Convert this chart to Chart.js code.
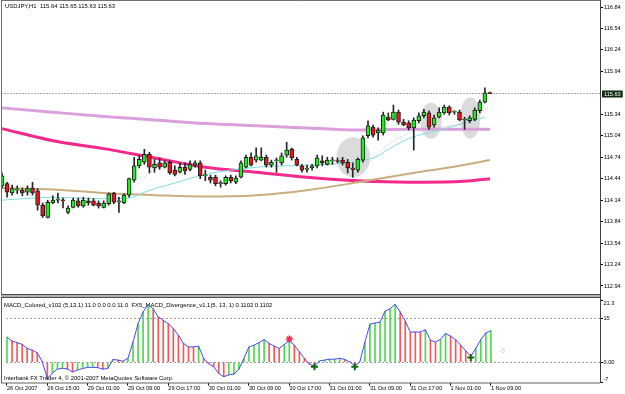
<!DOCTYPE html>
<html><head><meta charset="utf-8">
<script src="https://cdn.jsdelivr.net/npm/chart.js@4.4.1/dist/chart.umd.min.js"></script>
<style>
html,body{margin:0;padding:0;background:#fff;width:625px;height:394px;overflow:hidden}
#wrapA{position:absolute;left:0;top:0;width:625px;height:294px}
#wrapB{position:absolute;left:0;top:294px;width:625px;height:100px}
canvas{display:block}
</style></head><body>
<div id="wrapA"><canvas id="main" width="625" height="294"></canvas></div>
<div id="wrapB"><canvas id="macd" width="625" height="100"></canvas></div>
<script>
// ---------- data ----------
const symbolTitle = 'USDJPY,H1  115.64 115.65 115.63 115.63';
const opens = [114.34,114.37,114.24,114.28,114.28,114.25,114.31,114.27,114.07,113.90,
114.10,114.14,114.14,113.97,114.04,114.13,114.06,114.13,114.13,114.10,
114.04,114.09,114.24,114.11,114.10,114.21,114.42,114.62,114.67,114.78,
114.59,114.66,114.60,114.67,114.56,114.53,114.60,114.57,114.63,114.66,
114.48,114.46,114.46,114.37,114.37,114.46,114.39,114.46,114.60,114.74,
114.70,114.70,114.74,114.63,114.69,114.66,114.77,114.85,114.71,114.62,
114.57,114.59,114.62,114.69,114.64,114.69,114.69,114.70,114.67,114.59,
114.56,114.70,115.04,115.16,115.08,115.08,115.30,115.27,115.37,115.23,
115.22,115.15,115.25,115.32,115.36,115.19,115.30,115.36,115.44,115.37,
115.37,115.26,115.25,115.27,115.39,115.51,115.64];
const highs = [114.52,114.39,114.35,114.34,114.31,114.34,114.39,114.30,114.10,114.14,
114.20,114.24,114.17,114.06,114.17,114.17,114.18,114.17,114.16,114.13,
114.13,114.24,114.25,114.18,114.23,114.45,114.74,114.76,114.85,114.81,
114.71,114.73,114.69,114.69,114.62,114.66,114.66,114.69,114.69,114.69,
114.56,114.49,114.49,114.41,114.48,114.49,114.48,114.69,114.77,114.80,
114.87,114.87,114.77,114.70,114.73,114.80,114.95,114.87,114.74,114.64,
114.63,114.64,114.77,114.76,114.74,114.74,114.73,114.74,114.71,114.66,
114.73,115.04,115.25,115.19,115.15,115.37,115.36,115.47,115.40,115.27,
115.25,115.29,115.36,115.41,115.39,115.33,115.43,115.47,115.46,115.39,
115.40,115.30,115.32,115.43,115.54,115.71,115.65];
const lows = [114.31,114.18,114.21,114.23,114.20,114.21,114.21,114.00,113.90,113.89,
114.09,114.10,114.03,113.95,114.03,114.04,114.04,114.07,114.06,114.03,
114.03,114.07,114.09,113.97,114.09,114.18,114.39,114.59,114.64,114.52,
114.53,114.57,114.59,114.50,114.48,114.52,114.50,114.55,114.60,114.44,
114.41,114.38,114.34,114.32,114.35,114.38,114.37,114.45,114.59,114.62,
114.67,114.69,114.60,114.60,114.53,114.63,114.74,114.70,114.62,114.53,
114.53,114.56,114.59,114.62,114.63,114.64,114.66,114.63,114.52,114.46,
114.53,114.67,115.01,115.02,114.98,115.05,115.25,115.26,115.20,115.18,
115.12,114.84,115.22,115.29,115.13,115.16,115.29,115.34,115.33,115.34,
115.25,115.13,115.22,115.25,115.36,115.50,115.63];
const closes = [114.48,114.25,114.30,114.28,114.24,114.30,114.24,114.07,113.92,114.11,
114.14,114.14,114.13,114.03,114.14,114.06,114.14,114.10,114.07,114.06,
114.10,114.23,114.11,114.13,114.21,114.44,114.62,114.71,114.78,114.60,
114.64,114.60,114.66,114.52,114.50,114.60,114.55,114.64,114.66,114.48,
114.49,114.42,114.37,114.38,114.46,114.41,114.45,114.66,114.74,114.63,
114.76,114.74,114.63,114.67,114.69,114.76,114.84,114.73,114.63,114.56,
114.59,114.62,114.73,114.66,114.70,114.69,114.68,114.66,114.59,114.57,
114.71,115.01,115.18,115.05,115.12,115.33,115.26,115.37,115.23,115.19,
115.15,115.26,115.32,115.37,115.16,115.29,115.37,115.44,115.36,115.37,
115.26,115.26,115.29,115.40,115.51,115.64,115.63];
const bidPrice = [115.63];
const priceTicks = [112.94,113.24,113.54,113.84,114.14,114.44,114.74,115.04,115.34,115.94,116.24,116.54,116.84];

const maBars = [0,10,20,30,40,50,60,70,80,90,96];
const plumMA = [115.43,115.37,115.31,115.26,115.21,115.18,115.15,115.12,115.13,115.13,115.13];
const pinkMA = [115.14,114.97,114.86,114.73,114.60,114.53,114.46,114.41,114.39,114.40,114.44];
const tanMA  = [114.31,114.29,114.24,114.21,114.19,114.21,114.28,114.39,114.51,114.62,114.70];
const cyanBars = [0,10,20,25,28,30,34,40,50,60,70,74,76,80,86,90,95];
const cyanMA   = [114.14,114.18,114.16,114.17,114.25,114.30,114.38,114.50,114.60,114.63,114.68,114.76,114.85,115.00,115.12,115.20,115.30];
const dotABars = [25.2,27.2,29.1,31.1,33.6,38.4];
const dotA     = [114.24,114.42,114.53,114.60,114.66,114.67];
const dotBBars = [70,72.8,75.5,78.3,81.3,86.2,90.1,93.1,95.6];
const dotB     = [114.59,114.70,114.90,115.02,115.12,115.16,115.20,115.29,115.44];
const circleBars   = [69.1,84.4,92.1];
const circlePrices = [114.74,115.25,115.29];

const macdTitle = 'MACD_Colored_v102 (5,13,1) 11.0 0.0 0.0 11.0  FX5_MACD_Divergence_v1.1(5, 13, 1) 0.1102 0.1102';
const macdValues = [8.6,7.2,6.7,6.1,4.7,4.1,3.2,0.1,-5.6,-3.8,
-2.4,-2.1,-2.4,-3.4,-2.7,-2.2,-1.8,-1.8,-1.9,-2.4,
-2.2,0.9,0.7,0.3,1.3,6.9,13.2,17.2,19.8,18.3,
15.5,14.3,13.2,11.5,9.2,6.4,5.2,5.2,5.5,1.3,
-0.5,-1.6,-3.9,-5.0,-4.4,-4.1,-2.5,1.3,5.2,5.8,
6.7,7.7,6.4,5.5,4.7,6.0,7.3,5.8,3.5,1.3,
-0.8,-1.4,0.4,0.7,1.0,1.0,1.3,0.9,0.1,-1.3,
0.1,6.9,13.0,13.4,13.7,17.5,18.3,19.8,17.2,14.1,
10.3,10.3,10.3,11.1,7.5,6.9,7.8,9.8,8.9,7.7,
5.8,3.9,2.0,4.7,7.7,10.0,10.7];
const macdTicks = [-7,0,15,21.3];
const macdTickLabels = ['-7','0.00','15','21.3'];
const sellBars = [56], sellValues = [7.9];
const buyBars = [61,69,92], buyValues = [-1.6,-1.6,1.6];
const ghostBar = [97.6], ghostValue = [3.8], ghostText = ['-6'];
const timeLabels = ['26 Oct 2007','26 Oct 15:00','29 Oct 01:00','29 Oct 09:00','29 Oct 17:00','30 Oct 01:00','30 Oct 09:00','30 Oct 17:00','31 Oct 01:00','31 Oct 09:00','31 Oct 17:00','1 Nov 01:00','1 Nov 09:00'];
const barsPerLabel = 8;
const copyright = 'Interbank FX Trader 4, \u00A9 2001-2007 MetaQuotes Software Corp.';

// ---------- drawing ----------
const FONT = "'Liberation Sans', Arial, sans-serif";
const xMin = -0.197, xMax = 117.64;
const idx = closes.map((_, i) => i);
const pts = (xs, ys) => xs.map((x, k) => ({x, y: ys[k]}));
const hiddenX = {type:'linear', min:xMin, max:xMax, display:false, offset:false, grid:{offset:false}};

const frameA = {
  id:'frameA',
  beforeDatasetsDraw(chart){
    const {ctx} = chart, xs = chart.scales.x, ys = chart.scales.y;
    const rB = [3.3,2.1,2.0], rP = [0.28,0.25,0.29];
    ctx.save();
    ctx.fillStyle = 'rgba(195,195,195,0.6)';
    circleBars.forEach((b,k)=>{
      const cx = xs.getPixelForValue(b), cy = ys.getPixelForValue(circlePrices[k]);
      const rx = Math.abs(xs.getPixelForValue(b + rB[k]) - cx);
      const ry = Math.abs(ys.getPixelForValue(circlePrices[k] + rP[k]) - cy);
      ctx.beginPath(); ctx.ellipse(cx, cy, rx, ry, 0, 0, Math.PI*2); ctx.fill();
    });
    ctx.restore();
  },
  afterDraw(chart){
    const {ctx, chartArea:a} = chart, ys = chart.scales.y;
    ctx.save();
    ctx.lineWidth = 1;
    ctx.strokeStyle = '#707070';
    ctx.beginPath(); ctx.moveTo(1.5,0); ctx.lineTo(1.5,a.bottom); ctx.moveTo(1,0.5); ctx.lineTo(a.right,0.5); ctx.stroke();
    ctx.strokeStyle = '#404040';
    ctx.beginPath(); ctx.moveTo(a.right+0.5,0); ctx.lineTo(a.right+0.5,a.bottom); ctx.stroke();
    ctx.fillStyle = '#000'; ctx.textBaseline = 'middle'; ctx.textAlign = 'left';
    ctx.font = '5.9px ' + FONT;
    ctx.fillText(symbolTitle, 5, 6.5);
    const y = ys.getPixelForValue(bidPrice[0]);
    const lbl = bidPrice[0].toFixed(2);
    ctx.font = '5.6px ' + FONT;
    const w = ctx.measureText(lbl).width;
    ctx.fillStyle = '#0e2a10';
    ctx.fillRect(a.right+2, Math.round(y)-3.5, w+4, 7);
    ctx.fillStyle = '#fff';
    ctx.fillText(lbl, a.right+4, Math.round(y));
    ctx.restore();
  }
};

new Chart(document.getElementById('main'), {
  type:'bar',
  data:{datasets:[
    {type:'bar', data: idx.map(i=>({x:i, y:[opens[i], closes[i]]})),
     backgroundColor: c => closes[c.dataIndex] >= opens[c.dataIndex] ? '#22e822' : '#e8161b',
     borderColor:'#1e1e1e', borderWidth:1, borderSkipped:false, barThickness:4, minBarLength:1, grouped:false, order:0},
    {type:'bar', data: idx.map(i=>({x:i, y:[lows[i], highs[i]]})),
     backgroundColor:'#262626', barThickness:1, grouped:false, order:1},
    {type:'line', data: pts(dotABars, dotA), borderColor:'#b4b4b4', borderWidth:1, borderDash:[1,2], pointRadius:0, order:2},
    {type:'line', data: pts(dotBBars, dotB), borderColor:'#b4b4b4', borderWidth:1, borderDash:[1,2], pointRadius:0, order:2},
    {type:'line', data: pts(cyanBars, cyanMA), borderColor:'#7fdede', borderWidth:1, pointRadius:0, cubicInterpolationMode:'monotone', order:3},
    {type:'line', data: pts(maBars, tanMA), borderColor:'#c9ad7f', borderWidth:2, pointRadius:0, cubicInterpolationMode:'monotone', order:4},
    {type:'line', data: pts(maBars, pinkMA), borderColor:'#f5288c', borderWidth:3, pointRadius:0, cubicInterpolationMode:'monotone', order:4},
    {type:'line', data: pts(maBars, plumMA), borderColor:'#dba0db', borderWidth:3, pointRadius:0, cubicInterpolationMode:'monotone', order:4},
    {type:'line', data: [{x:xMin, y:bidPrice[0]}, {x:xMax, y:bidPrice[0]}], borderColor:'#a8a8a8', borderWidth:1, borderDash:[2,1], pointRadius:0, order:6}
  ]},
  options:{
    responsive:false, animation:false, events:[],
    layout:{padding:{left:1, top:1, right:0, bottom:0}},
    plugins:{legend:{display:false}, tooltip:{enabled:false}},
    scales:{
      x: hiddenX,
      y:{position:'right', min:112.828, max:116.924,
         afterFit(s){ s.width = 25; s.paddingTop = 0; s.paddingBottom = 0; },
         afterBuildTicks(s){ s.ticks = priceTicks.map(v => ({value:v})); },
         ticks:{font:{family:FONT, size:5.6}, color:'#000', padding:1, callback: v => Number(v).toFixed(2)},
         grid:{drawOnChartArea:false, drawTicks:true, tickLength:3, tickColor:'#000'},
         border:{display:false}}
    }
  },
  plugins:[frameA]
});

const frameB = {
  id:'frameB',
  beforeDatasetsDraw(chart){
    const {ctx} = chart;
    ctx.save(); ctx.fillStyle = '#000'; ctx.font = '5.9px ' + FONT; ctx.textBaseline = 'middle'; ctx.textAlign = 'left';
    ctx.fillText(macdTitle, 4, 11);
    ctx.restore();
  },
  afterDatasetsDraw(chart){
    const {ctx} = chart, xs = chart.scales.x, ys = chart.scales.y;
    ctx.save(); ctx.textBaseline = 'middle'; ctx.textAlign = 'left';
    ctx.fillStyle = '#000'; ctx.font = '5.9px ' + FONT;
    ctx.fillText(copyright, 4, 84);
    ctx.fillStyle = '#cfcfcf'; ctx.font = '7px ' + FONT;
    ghostBar.forEach((b,k) => ctx.fillText(ghostText[k], xs.getPixelForValue(b), ys.getPixelForValue(ghostValue[k])));
    ctx.restore();
  },
  afterDraw(chart){
    const {ctx, chartArea:a} = chart, ys = chart.scales.y;
    ctx.save();
    ctx.fillStyle = '#b0b0b0'; ctx.fillRect(1, 0, a.right, 4);
    ctx.fillStyle = '#505050'; ctx.fillRect(1, 0, a.right, 1); ctx.fillRect(1, 3, a.right, 1);
    ctx.strokeStyle = '#606060'; ctx.lineWidth = 1;
    ctx.beginPath();
    ctx.moveTo(1.5, 4); ctx.lineTo(1.5, a.bottom + 0.5);
    ctx.moveTo(1, a.bottom + 0.5); ctx.lineTo(a.right, a.bottom + 0.5);
    ctx.stroke();
    ctx.strokeStyle = '#404040';
    ctx.beginPath(); ctx.moveTo(a.right + 0.5, 0); ctx.lineTo(a.right + 0.5, a.bottom + 0.5); ctx.stroke();
    ctx.fillStyle = '#000'; ctx.font = '5.6px ' + FONT; ctx.textBaseline = 'middle'; ctx.textAlign = 'left';
    macdTicks.forEach((v,k) => {
      let y = ys.getPixelForValue(v);
      y = Math.min(Math.max(y, a.top + 3.5), a.bottom - 3.5);
      ctx.fillText(macdTickLabels[k], a.right + 3.5, y);
    });
    ctx.restore();
  }
};

const histColors = [];
macdValues.forEach((v,i) => {
  if (i === 0) histColors.push('#4fd84f');
  else if (v > macdValues[i-1]) histColors.push('#4fd84f');
  else if (v < macdValues[i-1]) histColors.push('#f25a5a');
  else histColors.push(histColors[i-1]);
});

new Chart(document.getElementById('macd'), {
  type:'bar',
  data:{datasets:[
    {type:'scatter', data: pts(sellBars, sellValues), pointStyle:'star', pointRadius:3.5, borderColor:'#ff2a55', backgroundColor:'#ff2a55', pointBorderWidth:1.5, order:0},
    {type:'scatter', data: pts(buyBars, buyValues), pointStyle:'cross', pointRadius:3.5, borderColor:'#0b6a0b', backgroundColor:'#0b6a0b', pointBorderWidth:2, order:0},
    {type:'line', data: idx.map(i => ({x:i, y:macdValues[i]})), borderColor:'#4a4af2', borderWidth:1, pointRadius:0, order:1},
    {type:'bar', data: idx.map(i => ({x:i, y:macdValues[i]})), backgroundColor: c => histColors[c.dataIndex], barThickness:1, grouped:false, order:2}
  ]},
  options:{
    responsive:false, animation:false, events:[],
    layout:{padding:{left:1, top:5.5, right:0, bottom:0}},
    plugins:{legend:{display:false}, tooltip:{enabled:false}},
    scales:{
      x:{type:'linear', min:xMin, max:xMax, position:'bottom', offset:false,
         afterFit(s){ s.height = 11.5; s.paddingLeft = 0; s.paddingRight = 0; },
         afterBuildTicks(s){ s.ticks = timeLabels.map((_,k) => ({value:k*barsPerLabel})); },
         ticks:{align:'start', autoSkip:false, maxRotation:0, minRotation:0, font:{family:FONT, size:5.6}, color:'#000', padding:0,
                callback:(v,k) => timeLabels[k]},
         grid:{offset:false, drawOnChartArea:false, drawTicks:true, tickLength:3, tickColor:'#000'},
         border:{display:false}},
      y:{position:'right', min:-7, max:21.3,
         afterFit(s){ s.width = 25; s.paddingTop = 0; s.paddingBottom = 0; },
         afterBuildTicks(s){ s.ticks = macdTicks.map(v => ({value:v})); },
         ticks:{display:false},
         grid:{drawOnChartArea:true, drawTicks:true, tickLength:3, tickColor:'#000',
               color: c => (c.tick && (c.tick.value === 0 || c.tick.value === 15)) ? '#a0a0a0' : 'rgba(0,0,0,0)'},
         border:{display:false, dash:[2,2]}}
    }
  },
  plugins:[frameB]
});
</script>
</body></html>
